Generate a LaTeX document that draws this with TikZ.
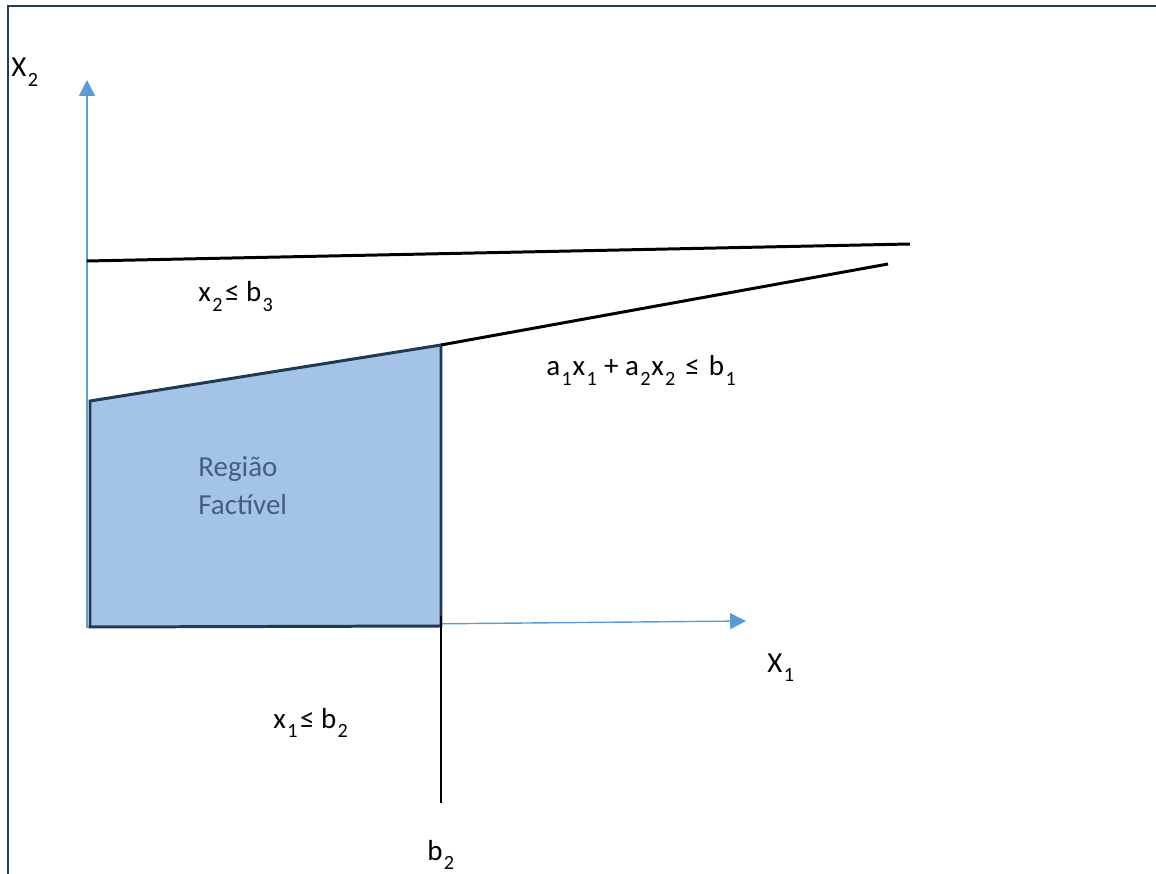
\documentclass[tikz,border=0pt]{standalone}
\usepackage{fontspec}
\setmainfont{Carlito}
\usetikzlibrary{arrows.meta}
\definecolor{FrameNavy}{HTML}{243F5C}
\definecolor{AxisBlue}{HTML}{5B9BD5}
\definecolor{RegionFill}{HTML}{A3C4E6}
\definecolor{RegionEdge}{HTML}{203A55}
\definecolor{RegionText}{HTML}{44607F}
\newcommand{\lowidx}[1]{\kern0.8pt\raisebox{-0.7ex}{\fontsize{11.5}{11.5}\selectfont #1}\kern0.4pt\relax}

\begin{document}
\begin{tikzpicture}[x=0.02cm, y=-0.02cm, font=\fontsize{16.5}{20}\selectfont,
  axis/.style={AxisBlue, line width=0.8pt, -{Triangle[width=9pt,length=9pt]}},
  bound/.style={black, line width=1.7pt},
  lbl/.style={inner sep=0pt, anchor=base west}]
\useasboundingbox (0,0) rectangle (1156,874);

% Frame
\draw[FrameNavy, line width=1.6pt] (8,874) -- (8,6) -- (1156,6);

% Points of the region
\coordinate (O) at (88,627);
\coordinate (A) at (90,401);
\coordinate (B) at (441,345);
\coordinate (C) at (441,626);
\coordinate (D) at (90,627);

% Axes
\coordinate (ytip) at (87,80);
\coordinate (xtip) at (746,621);
\draw[axis] (87,628) -- (ytip);
\draw[axis] (O) -- (xtip);

% Feasible region
\fill[RegionFill] (A) -- (B) -- (C) -- (D) -- cycle;
\draw[RegionEdge, line width=1.7pt, line join=miter] (A) -- (B) -- (C) -- (D) -- cycle;

% Constraints
\coordinate (b3a) at (87,261);
\coordinate (b3b) at (910,244);
\coordinate (b1end) at (888,264);
\coordinate (b2end) at (441,803);
\draw[bound] (b3a) -- (b3b);
\draw[bound] (B) -- (b1end);
\draw[bound] (441,616) -- (b2end);

% Labels
\node[lbl] (ylab) at (11,77) {X\lowidx{2}};
\node[lbl] (xlab) at (767,672) {X\lowidx{1}};
\node[lbl] (c3) at (198,302) {x\lowidx{2}\kern1pt≤ b\lowidx{3}};
\node[lbl] (c1) at (546,376) {a\lowidx{1}x\lowidx{1} + a\lowidx{2}x\lowidx{2}\ \kern1.5pt≤\ \kern1.5pt b\lowidx{1}};
\node[lbl] (c2) at (273,728) {x\lowidx{1}\kern1pt≤ b\lowidx{2}};
\node[lbl] (b2lab) at (427,860) {b\lowidx{2}};
\node[lbl, RegionText] (reg) at (198,477) {Região};
\node[lbl, RegionText] (fact) at (198,515) {Factível};
\end{tikzpicture}
\end{document}
